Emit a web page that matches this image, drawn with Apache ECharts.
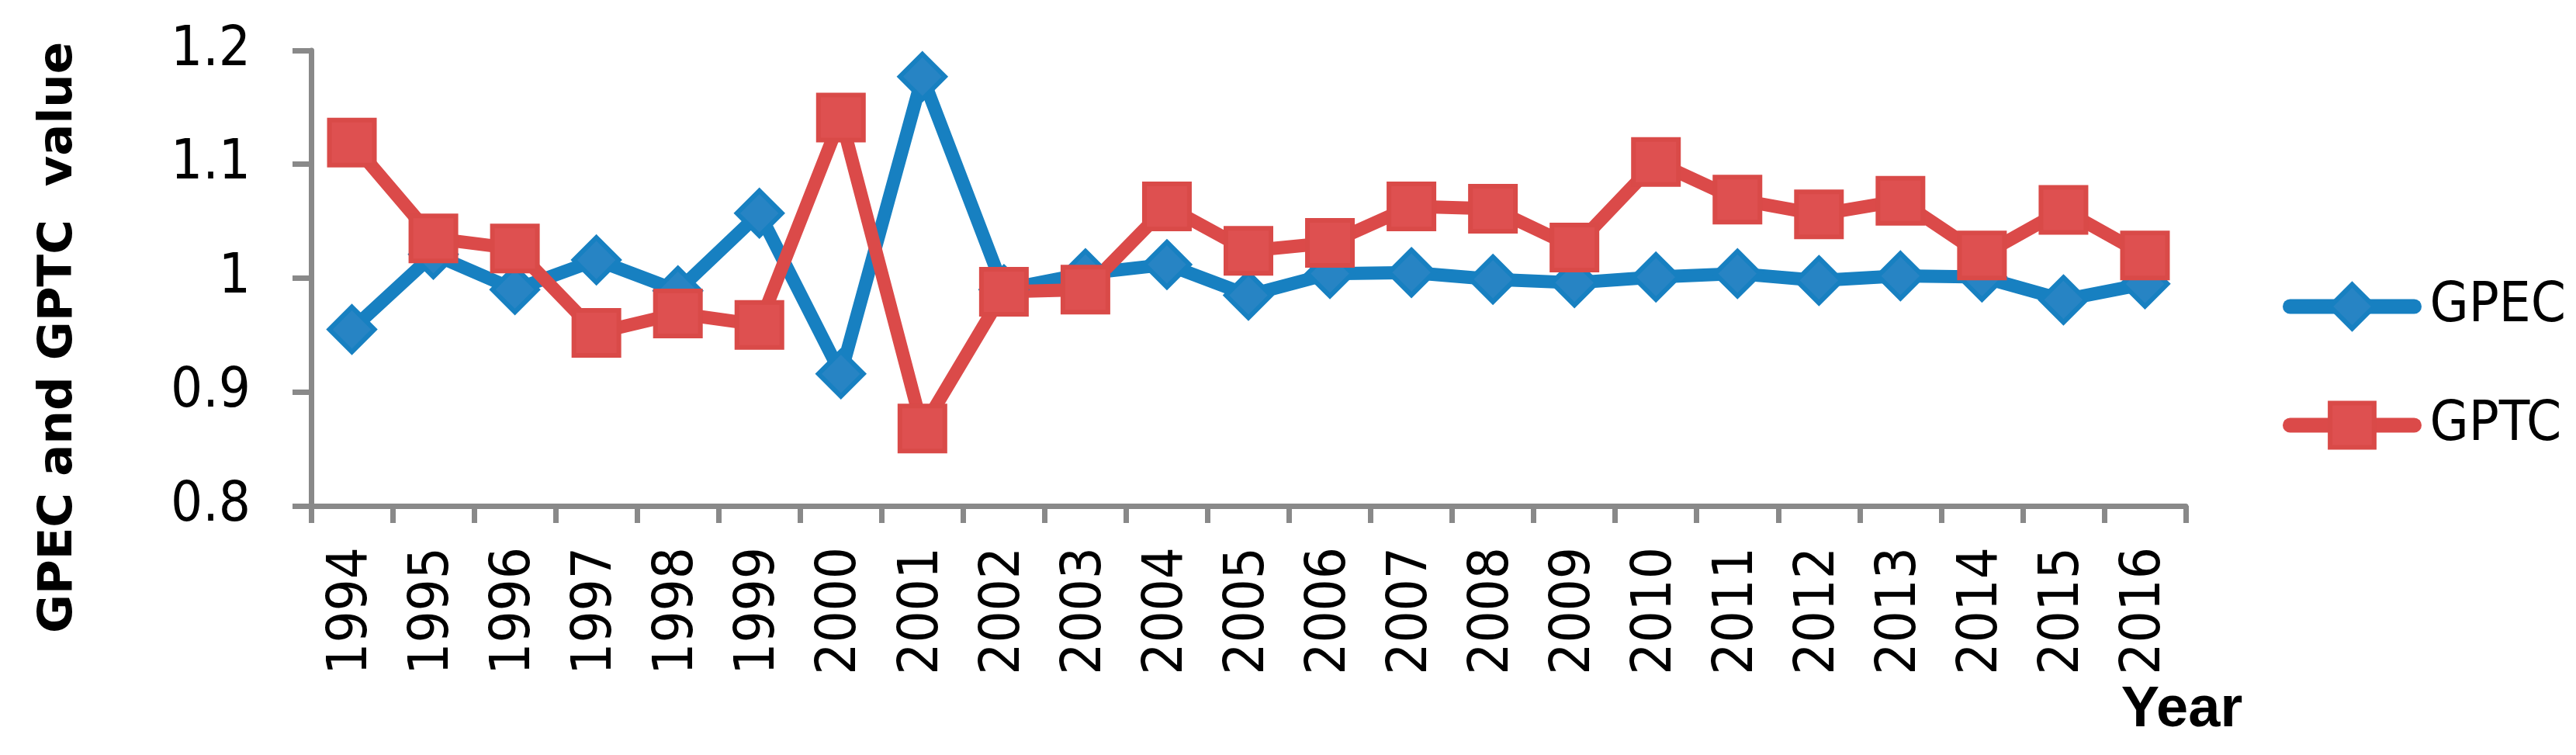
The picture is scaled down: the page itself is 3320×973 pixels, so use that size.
<!DOCTYPE html>
<html><head><meta charset="utf-8">
<script src="https://cdn.jsdelivr.net/npm/echarts@6/dist/echarts.min.js"></script>
<style>html,body{margin:0;padding:0;background:#fff}#c{width:3320px;height:973px}</style>
</head><body><div id="c"></div>
<script>
const years = ['1994','1995','1996','1997','1998','1999','2000','2001','2002','2003','2004','2005','2006','2007','2008','2009','2010','2011','2012','2013','2014','2015','2016'];
const gpec = [0.955, 1.021, 0.990, 1.016, 0.989, 1.057, 0.916, 1.177, 0.990, 1.004, 1.012, 0.985, 1.004, 1.005, 0.999, 0.996, 1.001, 1.004, 0.998, 1.002, 1.001, 0.981, 0.995];
const gptc = [1.119, 1.035, 1.026, 0.952, 0.969, 0.959, 1.141, 0.868, 0.988, 0.990, 1.063, 1.024, 1.031, 1.063, 1.061, 1.027, 1.102, 1.069, 1.056, 1.068, 1.020, 1.060, 1.020];
const yMin = 0.8, yMax = 1.2, yStep = 0.1;
const seriesNames = ['GPEC', 'GPTC'];
const yTitle = 'GPEC and GPTC  value';
const xTitle = 'Year';

const axisGray = '#898989';
const labelFont = 'DejaVu Sans Condensed';
const chart = echarts.init(document.getElementById('c'));
chart.setOption({
  animation: false,
  backgroundColor: '#fff',
  grid: { left: 401, right: 503, top: 65, bottom: 321 },
  xAxis: {
    type: 'category', data: years, boundaryGap: true,
    axisLine: { lineStyle: { color: axisGray, width: 7 } },
    axisTick: { show: true, interval: 0, length: 22, lineStyle: { color: axisGray, width: 7 } },
    axisLabel: { interval: 0, rotate: 90, margin: 53, fontFamily: labelFont, fontSize: 72, color: '#000' },
    splitLine: { show: false }
  },
  yAxis: {
    type: 'value', min: yMin, max: yMax, interval: yStep,
    axisLine: { show: true, lineStyle: { color: axisGray, width: 7 } },
    axisTick: { show: true, length: 24, lineStyle: { color: axisGray, width: 7 } },
    axisLabel: { margin: 78, fontFamily: labelFont, fontSize: 72, color: '#000' },
    splitLine: { show: false }
  },
  legend: {
    orient: 'vertical', left: 2937, top: 354,
    itemWidth: 160, itemHeight: 71, itemGap: 81,
    data: seriesNames,
    lineStyle: { width: 19, cap: 'round' },
    itemStyle: { borderWidth: 6 },
    textStyle: { fontFamily: labelFont, fontSize: 72, color: '#000', padding: [0, 0, 0, 15] }
  },
  graphic: [
    { type: 'text', x: 76, y: 435, rotation: Math.PI / 2,
      style: { text: yTitle, fontFamily: 'DejaVu Sans', fontWeight: 'bold', fontSize: 61, fill: '#000', align: 'center', verticalAlign: 'middle' } },
    { type: 'text', x: 2812, y: 916,
      style: { text: xTitle, fontFamily: 'Liberation Sans', fontWeight: 'bold', fontSize: 74, fill: '#000', align: 'center', verticalAlign: 'middle' } }
  ],
  series: [
    { name: seriesNames[0], type: 'line', data: gpec, symbol: 'diamond', symbolSize: 58,
      lineStyle: { color: '#1780c1', width: 17 },
      itemStyle: { color: '#2784c4', borderColor: '#1780c1', borderWidth: 6 } },
    { name: seriesNames[1], type: 'line', data: gptc, symbol: 'rect', symbolSize: 58,
      lineStyle: { color: '#db4a49', width: 17 },
      itemStyle: { color: '#de5050', borderColor: '#d94a48', borderWidth: 6 } }
  ]
});
</script>
</body></html>
